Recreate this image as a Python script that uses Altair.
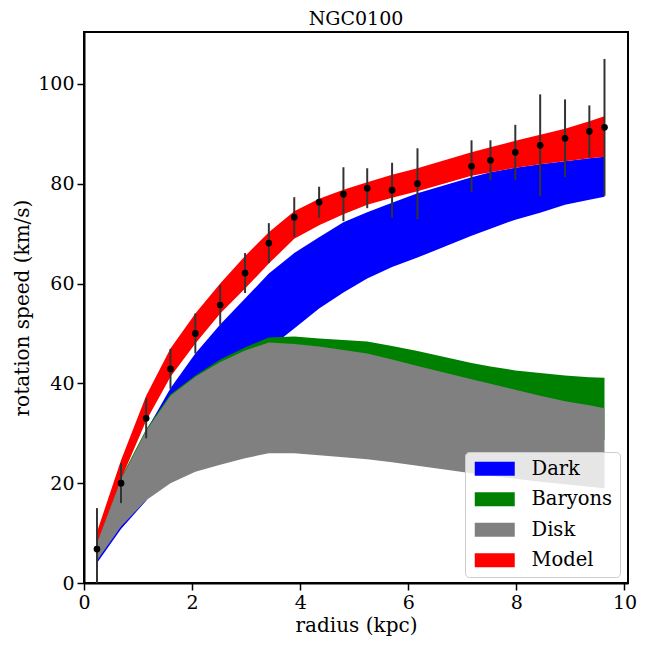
import altair as alt
import pandas as pd

# ---- data ----
radius = [0.24, 0.685, 1.15, 1.60, 2.06, 2.52, 2.98, 3.42, 3.89, 4.35, 4.80,
          5.24, 5.70, 6.17, 7.17, 7.52, 7.98, 8.44, 8.90, 9.35, 9.63]
v_obs = [6.8, 20.0, 33.0, 42.9, 50.0, 55.7, 62.1, 68.1, 73.3, 76.3, 77.9,
         79.1, 78.7, 80.0, 83.5, 84.7, 86.3, 87.7, 89.1, 90.5, 91.3]
v_err = [8.2, 4.0, 4.0, 4.0, 4.0, 4.0, 4.0, 4.0, 4.0, 3.1, 5.4,
         4.0, 5.5, 7.1, 5.2, 4.0, 5.5, 10.2, 7.8, 5.2, 13.7]

model_lo = [8.0, 20.8, 32.5, 41.3, 48.0, 54.0, 59.0, 64.0, 69.0, 71.7, 73.9,
            75.8, 77.2, 78.5, 81.6, 82.3, 83.2, 83.9, 84.5, 85.1, 85.4]
model_hi = [10.2, 24.6, 37.5, 47.0, 54.0, 60.0, 65.5, 70.3, 74.5, 77.0, 78.8,
            80.3, 81.8, 83.1, 86.3, 87.3, 88.6, 89.8, 91.0, 92.5, 93.5]
dark_lo = [4.0, 10.8, 16.5, 24.0, 31.0, 37.0, 42.0, 47.0, 51.0, 55.0, 58.2,
           61.0, 63.3, 65.2, 69.6, 71.0, 72.8, 74.2, 75.8, 76.8, 77.4]
dark_hi = [7.0, 20.5, 30.5, 39.0, 46.0, 51.8, 57.0, 62.0, 66.1, 69.3, 72.3,
           74.3, 76.2, 78.1, 81.3, 82.3, 83.2, 83.9, 84.5, 85.1, 85.4]
bary_lo = [4.6, 11.8, 17.5, 21.5, 24.5, 26.5, 28.3, 29.6, 30.0, 30.0, 29.9,
           29.7, 29.6, 29.5, 29.2, 29.1, 29.0, 28.9, 28.8, 28.7, 28.7]
bary_hi = [8.2, 21.1, 30.8, 37.8, 41.6, 44.8, 47.2, 49.2, 49.4, 49.0, 48.7,
           48.4, 47.5, 46.5, 44.1, 43.4, 42.6, 42.1, 41.6, 41.2, 41.1]
disk_lo = [4.5, 11.3, 16.6, 20.0, 22.3, 23.7, 25.0, 26.0, 26.0, 25.6, 25.2,
           24.8, 24.2, 23.5, 22.0, 21.5, 20.9, 20.3, 19.8, 19.3, 19.0]
disk_hi = [8.0, 20.8, 30.5, 37.5, 41.3, 44.3, 46.6, 48.2, 47.9, 47.4, 46.7,
           46.0, 44.8, 43.5, 40.8, 39.9, 38.7, 37.5, 36.4, 35.6, 35.0]

components = ["Dark", "Baryons", "Disk", "Model"]
comp_colors = ["#0000ff", "#008000", "#808080", "#ff0000"]
bands = {"Dark": (dark_lo, dark_hi), "Baryons": (bary_lo, bary_hi),
         "Disk": (disk_lo, disk_hi), "Model": (model_lo, model_hi)}

FONT = "DejaVu Serif, Liberation Serif, serif"

xscale = alt.Scale(domain=[0, 10.065], nice=False, zero=False)
yscale = alt.Scale(domain=[0, 110.4], nice=False, zero=False)
xaxis = alt.Axis(values=[0, 2, 4, 6, 8, 10], title="radius (kpc)", format="d",
                 labelFlush=False)
yaxis = alt.Axis(values=[0, 20, 40, 60, 80, 100], title="rotation speed (km/s)", format="d",
                 labelFlush=False)

color = alt.Color(
    "component:N",
    scale=alt.Scale(domain=components, range=comp_colors),
    legend=alt.Legend(
        title=None, orient="none", legendX=381, legendY=420,
        symbolType="M-2.857,-1L2.857,-1L2.857,1L-2.857,1Z",
        symbolSize=196, symbolStrokeWidth=0, symbolOffset=13, symbolOpacity=1,
        labelFont=FONT, labelFontSize=19.5, labelColor="black", labelOffset=27,
        rowPadding=9.5, padding=7,
        fillColor="rgba(255,255,255,0.8)", strokeColor="#cccccc", cornerRadius=4,
    ),
)

layers = []
for comp in components:
    lo, hi = bands[comp]
    df = pd.DataFrame({"radius": radius, "lo": lo, "hi": hi, "component": comp})
    layers.append(
        alt.Chart(df).mark_area(opacity=1).encode(
            x=alt.X("radius:Q", scale=xscale, axis=xaxis),
            y=alt.Y("lo:Q", scale=yscale, axis=yaxis),
            y2="hi:Q",
            color=color,
        )
    )

obs = pd.DataFrame({"radius": radius, "v": v_obs, "err": v_err})
obs["lo"] = obs["v"] - obs["err"]
obs["hi"] = obs["v"] + obs["err"]

errbars = alt.Chart(obs).mark_rule(color="#333333", strokeWidth=2, clip=True).encode(
    x="radius:Q", y="lo:Q", y2="hi:Q"
)
points = alt.Chart(obs).mark_circle(color="black", size=45, opacity=1).encode(
    x="radius:Q", y="v:Q"
)

chart = alt.layer(*layers, errbars, points).properties(
    width=544, height=551,
    title=alt.TitleParams("NGC0100", font=FONT, fontSize=19, fontWeight="normal",
                          color="black", offset=3),
    autosize=alt.AutoSizeParams(type="none"),
    padding={"left": 76, "top": 24, "right": 12, "bottom": 57},
).configure_view(
    stroke="black", strokeWidth=2
).configure_axis(
    grid=False, domainColor="black", domainWidth=2,
    tickColor="black", tickWidth=1.5, tickSize=7,
    labelFont=FONT, labelFontSize=19, labelColor="black", labelPadding=3,
    titleFont=FONT, titleFontSize=20, titleFontWeight="normal", titleColor="black",
).configure_axisX(titlePadding=3).configure_axisY(titlePadding=5)

chart.save("out.html", embed_options={"renderer": "svg", "actions": False})
